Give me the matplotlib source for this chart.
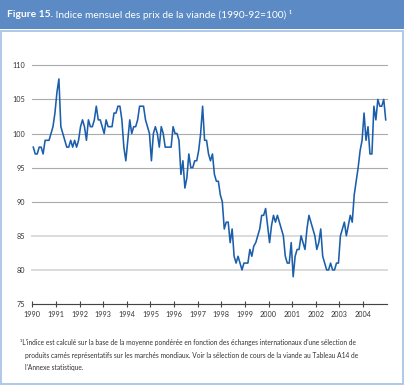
import numpy as np
import matplotlib
matplotlib.use('Agg')
import matplotlib.pyplot as plt
from matplotlib.patches import Rectangle

plt.rcParams['font.family'] = ['Lato', 'DejaVu Sans']

# Monthly meat price index, Jan 1990 - Dec 2004 (one row per year)
start_year = 1990
meat_index = [
    98, 97, 97, 98, 98, 97, 99, 99, 99, 100, 101, 103,           # 1990
    106, 108, 101, 100, 99, 98, 98, 99, 98, 99, 98, 99,          # 1991
    101, 102, 101, 99, 102, 101, 101, 102, 104, 102, 102, 101,   # 1992
    100, 102, 101, 101, 101, 103, 103, 104, 104, 102, 98, 96,    # 1993
    99, 102, 100, 101, 101, 102, 104, 104, 104, 102, 101, 100,   # 1994
    96, 100, 101, 100, 98, 101, 100, 98, 98, 98, 98, 101,        # 1995
    100, 100, 99, 94, 96, 92, 93.5, 97, 95, 95, 96, 96,          # 1996
    97.5, 100, 104, 99, 99, 97, 96, 97, 94, 93, 93, 91,          # 1997
    90, 86, 87, 87, 84, 86, 82, 81, 82, 81, 80, 81,              # 1998
    81, 81, 83, 82, 83.5, 84, 85, 86, 88, 88, 89, 86.5,          # 1999
    84, 86.5, 88, 87, 88, 87, 86, 85, 82, 81, 81, 84,            # 2000
    79, 82, 83, 83, 85, 84, 83, 86, 88, 87, 86, 85,              # 2001
    83, 84, 86, 82, 81, 80, 80, 81, 80, 80, 81, 81,              # 2002
    85, 86, 87, 85, 86.5, 88, 87, 91, 93, 95, 97.5, 99,          # 2003
    103, 99, 101, 97, 97, 104, 102, 105, 104, 104, 105, 102,     # 2004
]
year_ticks = list(range(1990, 2005))
y_ticks = [75, 80, 85, 90, 95, 100, 105, 110]
light_grid = [80, 85]

title_bold = "Figure 15."
title_rest = " Indice mensuel des prix de la viande (1990-92=100) \u00b9"
footnote = [
    "\u00b9L'indice est calcul\u00e9 sur la base de la moyenne pond\u00e9r\u00e9e en fonction des \u00e9changes internationaux d'une s\u00e9lection de",
    "produits carn\u00e9s repr\u00e9sentatifs sur les march\u00e9s mondiaux. Voir la s\u00e9lection de cours de la viande au Tableau A14 de",
    "l'Annexe statistique.",
]

W, H = 404, 385
fig = plt.figure(figsize=(W / 100, H / 100), dpi=100)
fig.patch.set_facecolor('white')

# header band and panel frame (pixel coords -> figure fraction)
def px(x, y):
    return x / W, 1 - y / H

fig.add_artist(Rectangle(px(0, 28.5), 1, 28.5 / H, transform=fig.transFigure,
                         facecolor='#5b8ac5', edgecolor='none', zorder=0))
fig.add_artist(Rectangle(px(0.8, 384.2), (W - 1.6) / W, (384.2 - 31) / H,
                         transform=fig.transFigure, facecolor='white',
                         edgecolor='#a9c4e6', linewidth=1.3, zorder=0))

t1 = fig.text(*px(7, 14.5), title_bold, color='white', fontsize=7.4,
              fontweight='bold', va='center', ha='left')
fig.canvas.draw()
bb = t1.get_window_extent()
fig.text(bb.x1 / W, 1 - 14.5 / H, title_rest, color='white', fontsize=7.3,
         va='center', ha='left')

# main axes
ax = fig.add_axes([32.3 / W, 1 - 304 / H, (386.7 - 32.3) / W, (304 - 65.3) / H])
months = np.arange(len(meat_index))
x = start_year + (months + 0.5) / 12
ax.plot(x, meat_index, color='#1b5eab', linewidth=1.15, solid_joinstyle='round', zorder=3)

ax.set_xlim(1990, 2005)
ax.set_ylim(75, 110)
ax.set_yticks(y_ticks)
ax.set_xticks(year_ticks)
ax.set_xticklabels([str(y) for y in year_ticks])

ax.yaxis.grid(True)
for val, gl in zip(y_ticks, ax.get_ygridlines()):
    gl.set_clip_on(False)
    if val in light_grid:
        gl.set_color('#d9d9d9')
        gl.set_linewidth(1.3)
    else:
        gl.set_color('#aaaaaa')
        gl.set_linewidth(0.8)
ax.set_axisbelow(True)

for a in ['top', 'right', 'left']:
    ax.spines[a].set_visible(False)
ax.spines['bottom'].set_color('#444444')
ax.spines['bottom'].set_linewidth(0.8)

ax.tick_params(axis='y', length=0, pad=5, labelsize=5.2, labelcolor='#333333')
ax.tick_params(axis='x', direction='inout', length=4.5, width=0.8, color='#444444',
               pad=2.5, labelsize=5.2, labelcolor='#333333')

# footnote
fig.text(*px(20, 342.7), footnote[0], fontsize=4.8, color='#333333', va='center', ha='left')
fig.text(*px(25, 355.7), footnote[1], fontsize=4.8, color='#333333', va='center', ha='left')
fig.text(*px(25, 367.3), footnote[2], fontsize=4.8, color='#333333', va='center', ha='left')

fig.savefig('out.png', dpi=100)
